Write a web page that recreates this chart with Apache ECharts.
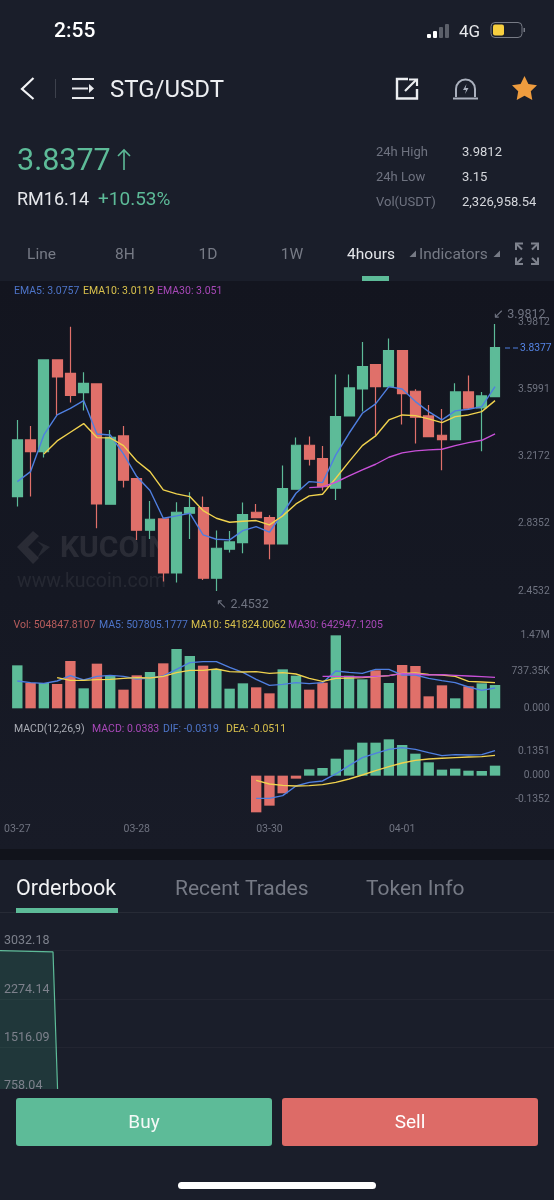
<!DOCTYPE html>
<html><head><meta charset="utf-8">
<style>html,body{margin:0;padding:0;background:#1a1e2a}#c{width:554px;height:1200px}</style>
<script src="https://cdn.jsdelivr.net/npm/echarts@6/dist/echarts.min.js"></script>
</head><body><div id="c"></div>
<script>
const categories = ['03-27','','','','','','','','','03-28','','','','','','','','','','03-30','','','','','','','','','','04-01','','','','','','',''];
const opens  = [2.9901,3.3123,3.2460,3.7671,3.6913,3.5814,3.6307,2.9466,3.3350,3.0925,2.7988,2.8632,2.5562,2.8954,2.9276,2.5259,2.6907,2.7286,2.9011,2.8708,2.7211,3.0318,3.2820,3.2062,3.0375,3.4487,3.6022,3.7406,3.6155,3.8202,3.5890,3.4487,3.3388,3.3142,3.5852,3.4942,3.5586];
const closes = [3.3123,3.2460,3.7671,3.6704,3.5662,3.6344,2.9485,3.3275,3.0830,2.7988,2.8613,2.5562,2.9011,2.9276,2.5259,2.6964,2.7324,2.8878,2.8708,2.7211,3.0356,3.2820,3.2024,3.0470,3.4449,3.6079,3.7292,3.6155,3.8202,3.5757,3.4412,3.3312,3.3142,3.5852,3.4923,3.5624,3.8377];
const lows   = [2.9333,2.9901,3.2119,3.4544,3.5245,3.4791,2.8101,2.9466,3.0413,2.7438,2.7495,2.5069,2.5012,2.7495,2.5164,2.4532,2.6718,2.6680,2.8708,2.6339,2.7211,3.0318,3.1664,3.0243,2.9712,3.4487,3.4734,3.3407,3.6155,3.3995,3.2915,3.3312,3.1399,3.3142,3.4828,3.2479,3.5586];
const highs  = [3.4260,3.3919,3.7709,3.7671,3.9566,3.6970,3.6307,3.3692,3.3919,3.0925,2.9655,2.8632,2.9579,3.0148,2.9901,2.7969,2.7950,2.9560,2.9485,2.8840,3.1664,3.3256,3.3312,3.2782,3.6837,3.6837,3.8694,3.7406,3.8884,3.8202,3.6003,3.5113,3.4885,3.6344,3.6780,3.5852,3.9720];
const ema5  = [3.0754,3.1323,3.3407,3.4544,3.4923,3.5359,3.3464,3.3407,3.2327,3.1039,3.0243,2.8670,2.8803,2.8954,2.7722,2.7476,2.7438,2.7969,2.8196,2.7874,2.8954,3.0091,3.0754,3.0697,3.2270,3.3502,3.4639,3.5170,3.6155,3.6022,3.5302,3.4734,3.4260,3.4772,3.4866,3.5018,3.6155];
const ema10 = [null,null,3.2327,3.3066,3.3559,3.4052,3.3256,3.3237,3.2801,3.1929,3.1323,3.0281,3.0053,2.9901,2.9106,2.8670,2.8443,2.8499,2.8537,2.8291,2.8803,2.9485,2.9939,3.0034,3.0944,3.1891,3.2801,3.3350,3.4260,3.4544,3.4506,3.4317,3.4108,3.4449,3.4544,3.4734,3.5359];
const ema30 = [null,null,null,null,null,null,null,null,null,null,null,null,null,null,null,null,null,null,null,null,null,null,3.0413,3.0451,3.0716,3.1076,3.1418,3.1740,3.2138,3.2384,3.2498,3.2555,3.2592,3.2801,3.2971,3.3104,3.3464];
const volumes = [865800,510100,510100,490000,953100,402700,899400,657800,375900,664500,731600,906100,1194700,1053800,859100,785300,396000,503400,422900,302000,785300,657800,375900,516800,1470000,657800,583900,765200,510100,872600,852400,241600,463100,201400,443000,503400,469800];
const ma5  = [550400,516800,503400,550400,657800,570500,644400,664500,644400,590700,610800,651100,785300,919500,939700,939700,825600,724900,583900,463100,483300,516800,496700,516800,751700,724900,704800,785300,785300,671200,671200,604100,557100,516800,429600,362400,409400];
const ma10 = [null,null,null,617500,563800,563800,577200,583900,604100,617500,610800,644400,718200,765200,765200,792000,738300,731600,738300,704800,718200,691300,604100,543700,604100,610800,617500,637600,657800,704800,711500,684600,671200,644400,543700,530200,516800];
const ma30 = [null,null,null,null,null,null,null,null,null,null,null,null,null,null,null,null,null,null,null,null,null,null,null,644400,644400,637600,630900,644400,657800,698000,691300,671200,677900,664500,651100,637600,624200];
const macdBars = [null,null,null,null,null,null,null,null,null,null,null,null,null,null,null,null,null,null,-0.2064,-0.1689,-0.0994,-0.0169,0.0356,0.0432,0.0957,0.1463,0.1857,0.1857,0.2045,0.1726,0.1238,0.0750,0.0338,0.0394,0.0281,0.0263,0.0563];
const dif = [null,null,null,null,null,null,null,null,null,null,null,null,null,null,null,null,null,null,-0.1276,-0.1276,-0.1126,-0.0582,-0.0375,-0.0300,0.0094,0.0563,0.1013,0.1257,0.1482,0.1576,0.1482,0.1295,0.1126,0.1182,0.1163,0.1182,0.1407];
const dea = [null,null,null,null,null,null,null,null,null,null,null,null,null,null,null,null,null,null,-0.0263,-0.0469,-0.0544,-0.0582,-0.0563,-0.0507,-0.0375,-0.0188,0.0038,0.0281,0.0507,0.0713,0.0863,0.0938,0.0976,0.1013,0.1051,0.1069,0.1144];
const priceTicks = [2.4532,2.8352,3.2172,3.5991,3.9812];
const volTicks = [0,737350,1470000];
const macdTicks = [-0.1352,0,0.1351];
const depthShare = [0,9.57,10.43];
const depthTotal = [3032.18,3013,758.04];
const depthTicks = [758.04,1516.09,2274.14,3032.18];

const GREEN='#5dbb98',RED='#e0706a',BLUE='#4f7fe0',YEL='#f0d24e',MAG='#c850d8',AX='#6f7380';
const FONT='Roboto, "Noto Sans", sans-serif';
const chart=echarts.init(document.getElementById('c'),null,{renderer:'canvas'});
const L=10.67,W=491;
const T=(x,y,text,fill,size,extra)=>({type:'text',silent:true,z:5,style:{x,y:y+1.5,text,fill,font:(extra&&extra.w||400)+' '+size+'px '+FONT,textAlign:extra&&extra.a||'left',textVerticalAlign:'middle'}});
const R=(x,y,w,h,fill,z,r)=>({type:'rect',silent:true,z:z==null?1:z,shape:{x,y,width:w,height:h,r:r||0},style:{fill}});
const PL=(points,stroke,lw,z)=>({type:'polyline',silent:true,z:z||5,shape:{points},style:{stroke,lineWidth:lw,fill:null}});
const PG=(points,fill,z)=>({type:'polygon',silent:true,z:z||5,shape:{points},style:{fill}});

const graphics=[
 R(0,0,554,281,'#1a1e2a',-3),
 {type:'rect',silent:true,z:-3,shape:{x:0,y:281,width:554,height:568},style:{fill:{type:'linear',x:0,y:0,x2:0,y2:1,colorStops:[{offset:0,color:'#13151f'},{offset:.55,color:'#151823'},{offset:1,color:'#181b27'}]}}},
 R(0,849,554,11,'#11131b',-3),
 R(0,860,554,340,'#1a1e2a',-3),
 // status bar
 T(54,30,'2:55','#fff',21,{w:500}),
 R(427,34,4,4,'#fff',5,1),R(433,31,4,7,'#fff',5,1),R(439,27,4,11,'#5b5f69',5,1),R(445,24,4,14,'#5b5f69',5,1),
 T(459,31,'4G','#e8e9ec',17),
 {type:'rect',silent:true,z:5,shape:{x:491,y:22.5,width:31,height:15,r:4},style:{fill:'none',stroke:'#777b85',lineWidth:1}},
 R(493,24.5,11,11,'#f7cf3f',5,2),R(523.5,28,1.5,4,'#777b85',5),
 // nav bar
 PL([[33.5,78],[22,89],[33.5,99]],'#f2f3f5',2.2),
 R(55,79,1,19,'#3d414c',5),
 R(72,78,22,2,'#e8e9ec',5),R(72,87.5,16,2,'#e8e9ec',5),R(72,97,22,2,'#e8e9ec',5),
 PG([[89,84],[94,88.5],[89,93]],'#e8e9ec'),
 T(110,89,'STG/USDT','#eceef1',24),
 PL([[408,79],[397,79],[397,98.5],[417,98.5],[417,89]],'#eceef1',2.4),
 PL([[405,91],[416,80]],'#eceef1',2.2),PL([[409,79.5],[417,79.5],[417,86]],'#eceef1',2.2),
 {type:'arc',silent:true,z:5,shape:{cx:465.5,cy:89,r:9.5,startAngle:Math.PI,endAngle:0,clockwise:true},style:{stroke:'#aab0bd',lineWidth:2,fill:null}},
 PL([[456,89],[456,97]],'#aab0bd',2),PL([[475,89],[475,97]],'#aab0bd',2),PL([[453,98.5],[478,98.5]],'#aab0bd',2),
 PG([[466.5,84],[463,90],[466,90],[465,94],[468.5,88],[465.6,88]],'#aab0bd'),
 PG([[524.5,76],[528.4,84],[537,85.2],[530.8,91.2],[532.3,100],[524.5,95.8],[516.7,100],[518.2,91.2],[512,85.2],[520.6,84]],'#ee9c3e'),
 // ticker
 T(17,161,'3.8377',GREEN,30.5),
 PL([[124,150],[124,170]],GREEN,1.6),PL([[118,156],[124,150],[130,156]],GREEN,1.6),
 T(17,199,'RM16.14','#e6e8ec',18),
 T(98,199,'+10.53%',GREEN,19),
 T(376,151,'24h High','#6f7380',13),T(376,176,'24h Low','#6f7380',13),T(376,201,'Vol(USDT)','#6f7380',13),
 T(462,151,'3.9812','#d5d7dc',13),T(462,176,'3.15','#d5d7dc',13),T(462,201,'2,326,958.54','#d5d7dc',13),
 // tabs
 T(41.5,254,'Line','#767a85',15.5,{a:'center'}),T(125,254,'8H','#767a85',15.5,{a:'center'}),T(208,254,'1D','#767a85',15.5,{a:'center'}),T(292,254,'1W','#767a85',15.5,{a:'center'}),
 T(371,254,'4hours','#e4e6ea',15.5,{a:'center'}),
 PG([[416,250.5],[416,257],[409.5,257]],'#767a85'),
 T(419,254,'Indicators','#767a85',15.5),
 PG([[500,250.5],[500,257],[493.5,257]],'#767a85'),
 PL([[516,250],[516,243.5],[523,243.5]],'#7e828d',2),PL([[516.5,244],[522,249.5]],'#7e828d',2),
 PL([[531,243.5],[538,243.5],[538,250]],'#7e828d',2),PL([[537.5,244],[532,249.5]],'#7e828d',2),
 PL([[516,257.5],[516,264],[523,264]],'#7e828d',2),PL([[516.5,263.5],[522,258]],'#7e828d',2),
 PL([[531,264],[538,264],[538,257.5]],'#7e828d',2),PL([[537.5,263.5],[532,258]],'#7e828d',2),
 R(362,276,27,5,GREEN,5),
 // watermark
 PG([[33,531],[17,547],[33,564],[39,558],[28,547],[39,536]],'rgba(255,255,255,.09)',1),
 PG([[37,541],[50,547],[37,558],[43,547]],'rgba(255,255,255,.08)',1),
 {type:'text',silent:true,z:1,style:{x:60,y:549,text:'KUCOIN',fill:'rgba(255,255,255,.09)',font:'700 30px '+FONT,textVerticalAlign:'middle'}},
 {type:'text',silent:true,z:1,style:{x:17,y:582,text:'www.kucoin.com',fill:'rgba(255,255,255,.07)',font:'400 19.5px '+FONT,textVerticalAlign:'middle'}},
 // legends
 T(14,289.5,'EMA5: 3.0757','#4d74c8',10.5),T(83,289.5,'EMA10: 3.0119','#d8c04c',10.5),T(157,289.5,'EMA30: 3.051','#a848b8',10.5),
 T(13.5,624,'Vol: 504847.8107','#b85d5d',10.5),T(99,624,'MA5: 507805.1777','#4d74c8',10.5),T(191,624,'MA10: 541824.0062','#d8c04c',10.5),T(288,624,'MA30: 642947.1205','#a848b8',10.5),
 T(14,727.8,'MACD(12,26,9)','#a9acb4',10.5),T(92,727.8,'MACD: 0.0383','#a848b8',10.5),T(163,727.8,'DIF: -0.0319','#4d74c8',10.5),T(226,727.8,'DEA: -0.0511','#d8c04c',10.5),
 // last price
 {type:'line',silent:true,z:5,shape:{x1:505,y1:348,x2:520,y2:348},style:{stroke:'#4f7fe0',lineWidth:1,lineDash:[5,3]}},
 T(520,347,'3.8377','#5585e6',10.3),
 // bottom tabs
 T(16,888,'Orderbook','#f0f1f3',21.5),T(175,888,'Recent Trades','#767a85',21),T(366,888,'Token Info','#767a85',21),
 R(0,912,554,1,'#272b36',5),R(16,908,102,5,GREEN,6),
 // bottom cover and buttons
 R(0,1089,554,111,'#1a1e2a',20),
 R(16,1098,256,48,GREEN,21,3),R(282,1098,256,48,'#dd6b67',21,3),
 Object.assign(T(144,1122,'Buy','#f4f9f7',19,{a:'center'}),{z:22}),Object.assign(T(410,1122,'Sell','#fff',19,{a:'center'}),{z:22}),
 R(178,1182,198,7,'#fff',22,3.5)
];

const axisLab=(extra)=>Object.assign({color:AX,fontSize:10.3,fontFamily:FONT,align:'right',margin:48},extra||{});
const hiddenX=(g)=>({type:'category',gridIndex:g,data:categories,show:false,boundaryGap:true});
const ln=(name,data,color,x,y)=>({name,type:'line',data,xAxisIndex:x,yAxisIndex:y,showSymbol:false,symbol:'none',silent:true,animation:false,connectNulls:false,lineStyle:{color,width:1.4},itemStyle:{color},z:4});
const peakLabel=(text,off)=>({show:true,position:'inside',align:'left',verticalAlign:'middle',offset:off,formatter:text,color:'#6f7380',fontSize:12.5,fontFamily:FONT});

chart.setOption({
 animation:false,backgroundColor:'transparent',
 graphic:{elements:graphics},
 grid:[
  {left:L,width:W,top:322.3,height:268.7},
  {left:L,width:W,top:635.33,height:73},
  {left:L,width:W,top:739.33,height:73},
  {left:0,width:554,top:950.7,height:193.2}
 ],
 xAxis:[hiddenX(0),hiddenX(1),
  {type:'category',gridIndex:2,data:categories,boundaryGap:true,axisLine:{show:false},axisTick:{show:false},
   axisLabel:{color:AX,fontSize:10.5,fontFamily:FONT,margin:12,verticalAlign:'top',interval:(i,v)=>v!==''}},
  {type:'value',gridIndex:3,min:0,max:100,show:false}
 ],
 yAxis:[
  {type:'value',gridIndex:0,position:'right',min:priceTicks[0],max:priceTicks[4],scale:true,splitLine:{show:false},axisLine:{show:false},axisTick:{show:false},axisLabel:axisLab({customValues:priceTicks,formatter:v=>v.toFixed(4)})},
  {type:'value',gridIndex:1,position:'right',min:0,max:1470000,splitLine:{show:false},axisLine:{show:false},axisTick:{show:false},axisLabel:axisLab({customValues:volTicks,padding:[0,0,5,0],formatter:v=>v===0?'0.000':v>=1e6?(v/1e6).toFixed(2)+'M':(v/1e3).toFixed(2)+'K'})},
  {type:'value',gridIndex:2,position:'right',min:-0.2064,max:0.2045,splitLine:{show:false},axisLine:{show:false},axisTick:{show:false},axisLabel:axisLab({customValues:macdTicks,padding:[0,0,5,0],formatter:v=>v===0?'0.000':v.toFixed(4)})},
  {type:'value',gridIndex:3,position:'left',z:10,min:0,max:3032.18,interval:758.045,axisLine:{show:false},axisTick:{show:false},splitLine:{show:true,lineStyle:{color:'rgba(255,255,255,.035)',width:1}},
   axisLabel:{inside:true,customValues:depthTicks,margin:4,align:'left',verticalAlign:'bottom',padding:[0,0,3,0],color:'#7d818c',fontSize:12.5,fontFamily:FONT,formatter:v=>v.toFixed(2)}}
 ],
 series:[
  {name:'Price',type:'candlestick',xAxisIndex:0,yAxisIndex:0,barWidth:10.4,silent:true,z:2,
   data:opens.map((o,i)=>[o,closes[i],lows[i],highs[i]]),
   itemStyle:{color:GREEN,color0:RED,borderColor:GREEN,borderColor0:RED,borderWidth:1.2},
   markPoint:{silent:true,symbol:'circle',symbolSize:0,animation:false,data:[
     {coord:[15,priceTicks[0]],label:peakLabel('↖ 2.4532',[0,14])},
     {coord:[36,priceTicks[4]],label:peakLabel('↙ 3.9812',[-2,-7])}
   ]}},
  ln('EMA5',ema5,BLUE,0,0),ln('EMA10',ema10,YEL,0,0),ln('EMA30',ema30,MAG,0,0),
  {name:'Vol',type:'bar',xAxisIndex:1,yAxisIndex:1,barWidth:10.4,silent:true,z:2,
   data:volumes.map((v,i)=>({value:v,itemStyle:{color:closes[i]>=opens[i]?GREEN:RED}}))},
  ln('MA5',ma5,BLUE,1,1),ln('MA10',ma10,YEL,1,1),ln('MA30',ma30,MAG,1,1),
  {name:'MACD',type:'bar',xAxisIndex:2,yAxisIndex:2,barWidth:10.4,silent:true,z:2,
   data:macdBars.map(v=>v==null?null:({value:v,itemStyle:{color:v>=0?GREEN:RED}}))},
  ln('DIF',dif,BLUE,2,2),ln('DEA',dea,YEL,2,2),
  {name:'Depth',type:'line',xAxisIndex:3,yAxisIndex:3,showSymbol:false,symbol:'none',silent:true,z:3,
   data:depthShare.map((x,i)=>[x,depthTotal[i]]),
   lineStyle:{color:'#5dbb98',width:1.2},areaStyle:{color:'#20373a',opacity:1,origin:'start'}}
 ]
});
</script></body></html>
